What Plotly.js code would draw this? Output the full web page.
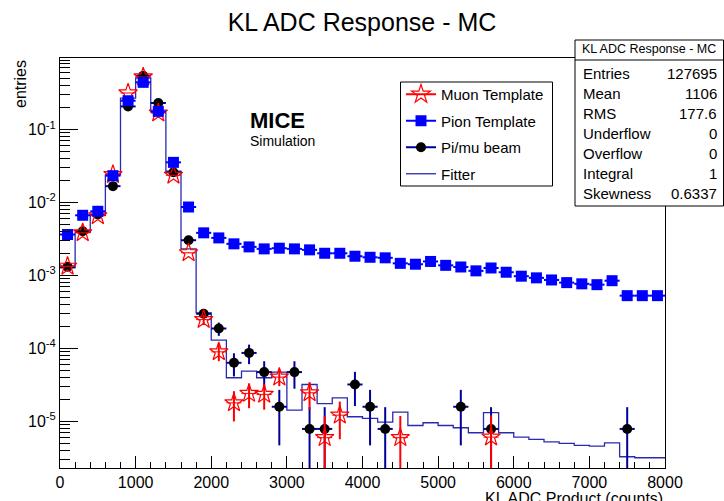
<!DOCTYPE html>
<html><head><meta charset="utf-8">
<script src="https://cdn.plot.ly/plotly-3.0.1.min.js"></script>
<style>html,body{margin:0;padding:0;background:#fff}#chart{width:724px;height:501px}</style>
</head><body><div id="chart"></div>
<script>
// ---- data ----
const binCenters = [100,300,500,700,900,1100,1300,1500,1700,1900,2100,2300,2500,2700,2900,3100,3300,3500,3700,3900,
                    4100,4300,4500,4700,4900,5100,5300,5500,5700,5900,6100,6300,6500,6700,6900,7100,7300,7500,7700,7900];
const binWidth = 200;
const muon = [1.34e-3,3.85e-3,6.6e-3,0.0242,0.318,0.527,0.169,0.0237,2.05e-3,2.49e-4,9.0e-5,1.8e-5,2.42e-5,2.35e-5,4.05e-5,null,2.47e-5,6.0e-6,1.22e-5,null,
              null,null,6.0e-6,null,null,null,null,null,6.1e-6,null,null,null,null,null,null,null,null,null,null,null];
const muonErr = [2e-5,3e-5,4e-5,8e-5,3e-4,4e-4,2e-4,8e-5,2.3e-5,3.9e-5,2.3e-5,0.8e-5,0.9e-5,0.9e-5,1.0e-5,null,1.0e-5,5.9e-6,0.65e-5,null,
                 null,null,5.9e-6,null,null,null,null,null,6.0e-6,null,null,null,null,null,null,null,null,null,null,null];
const pion = [3.65e-3,6.7e-3,7.6e-3,0.0234,0.249,0.445,0.178,0.0356,8.7e-3,3.85e-3,3.28e-3,2.72e-3,2.47e-3,2.32e-3,2.37e-3,2.32e-3,2.25e-3,2.02e-3,2.02e-3,1.84e-3,
              1.78e-3,1.75e-3,1.47e-3,1.43e-3,1.56e-3,1.38e-3,1.31e-3,1.16e-3,1.27e-3,1.11e-3,9.8e-4,9.3e-4,8.7e-4,8.0e-4,7.7e-4,7.5e-4,8.5e-4,5.3e-4,5.3e-4,5.3e-4];
const beam = [1.32e-3,4.05e-3,6.85e-3,0.0168,0.208,0.549,0.232,0.026,3.05e-3,2.99e-4,1.88e-4,6.37e-5,8.7e-5,4.75e-5,1.59e-5,4.75e-5,7.9e-6,7.9e-6,null,3.21e-5,
              1.59e-5,7.9e-6,null,null,null,null,1.59e-5,null,7.9e-6,null,null,null,null,null,null,null,null,7.9e-6,null,null];
const beamErr = [1e-4,1.8e-4,2.3e-4,3.6e-4,1.3e-3,2.1e-3,1.35e-3,4.5e-4,1.55e-4,4.9e-5,3.9e-5,2.23e-5,2.6e-5,1.94e-5,1.12e-5,1.94e-5,7.8e-6,7.8e-6,null,1.58e-5,
                 1.12e-5,7.8e-6,null,null,null,null,1.12e-5,null,7.8e-6,null,null,null,null,null,null,null,null,7.8e-6,null,null];
const fitter = [1.28e-3,3.92e-3,6.7e-3,0.024,0.27,0.51,0.175,0.0269,2.32e-3,3.08e-4,1.3e-4,3.97e-5,4.89e-5,3.97e-5,4.75e-5,1.43e-5,3.21e-5,1.75e-5,2.11e-5,1.16e-5,
                1.1e-5,9.8e-6,1.34e-5,8.8e-6,9.6e-6,8.8e-6,8.2e-6,7.0e-6,1.32e-5,7.0e-6,6.1e-6,5.67e-6,5.26e-6,5.0e-6,4.69e-6,4.59e-6,5.1e-6,3.28e-6,3.18e-6,3.18e-6];
const seriesNames = ['Muon Template','Pion Template','Pi/mu beam','Fitter'];
const statLabels = ['Entries','Mean','RMS','Underflow','Overflow','Integral','Skewness'];
const statValues = ['127695','1106','177.6','0','0','1','0.6337'];
const yTickVals = [1e-5,1e-4,1e-3,1e-2,1e-1];
const yTickText = ['10<sup>-5</sup>','10<sup>-4</sup>','10<sup>-3</sup>','10<sup>-2</sup>','10<sup>-1</sup>'];

// ---- geometry helpers ----
const W = 724, H = 501, ML = 60, MR = 59, MT = 58, MB = 33;
const PW = W - ML - MR, PH = H - MT - MB;
const px = x => (x - ML) / PW;           // pixel -> paper x
const py = y => (H - MB - y) / PH;       // pixel -> paper y

const FONT = 'Liberation Sans, Arial, Helvetica, sans-serif';
const RED = '#ff0000', BLUE = '#0000ff', NAVY = '#000099', FIT = '#2a2ab0';

const half = binWidth / 2;
const edges = binCenters.map(c => c - half).concat([binCenters[binCenters.length-1] + half]);
const fitY = fitter.concat([fitter[fitter.length-1]]);

const traces = [
  {type:'scatter', mode:'lines', x: edges, y: fitY, line:{shape:'hv', color:FIT, width:1.3}, showlegend:false, hoverinfo:'skip'},
  {type:'scatter', mode:'markers', x: binCenters, y: beam, showlegend:false,
   marker:{symbol:'circle', size:10, color:'#000000'},
   error_y:{type:'data', array: beamErr, color:NAVY, thickness:2, width:0},
   error_x:{type:'constant', value: half, color:NAVY, thickness:2, width:0}},
  {type:'scatter', mode:'markers', x: binCenters, y: muon, showlegend:false,
   marker:{symbol:'star-open', size:14, color:RED, line:{width:1.2, color:RED}},
   error_y:{type:'data', array: muonErr, color:RED, thickness:2, width:0},
   error_x:{type:'constant', value: half, color:RED, thickness:1, width:0}},
  {type:'scatter', mode:'markers', x: binCenters, y: pion, showlegend:false,
   marker:{symbol:'square', size:11, color:BLUE},
   error_x:{type:'constant', value: half, color:BLUE, thickness:2, width:0}},
  // legend entries
  {type:'scatter', mode:'lines+markers', x:[null], y:[null], name: seriesNames[0], legendgroup:'a',
   marker:{symbol:'star-open', size:14, color:RED, line:{width:1.2,color:RED}}, line:{color:RED, width:2}},
  {type:'scatter', mode:'lines+markers', x:[null], y:[null], name: seriesNames[1], legendgroup:'b',
   marker:{symbol:'square', size:11, color:BLUE}, line:{color:BLUE, width:2}},
  {type:'scatter', mode:'lines+markers', x:[null], y:[null], name: seriesNames[2], legendgroup:'c',
   marker:{symbol:'circle', size:10, color:'#000000'}, line:{color:NAVY, width:2}},
  {type:'scatter', mode:'lines', x:[null], y:[null], name: seriesNames[3], legendgroup:'d',
   line:{color:FIT, width:1.3}}
];

const minorY = [];
for (let e = -6; e <= -1; e++) for (let m = 2; m <= 9; m++) minorY.push(m * Math.pow(10, e));

const annotations = [
  {text:'KL ADC Product (counts)', xref:'paper', yref:'paper', x:1, y:py(498.5), xanchor:'right', yanchor:'middle',
   showarrow:false, font:{family:FONT, size:16, color:'#000'}},
  {text:'entries', xref:'paper', yref:'paper', x:px(20), y:1, xanchor:'center', yanchor:'top', textangle:-90,
   showarrow:false, font:{family:FONT, size:16, color:'#000'}},
  {text:'<b>MICE</b>', xref:'paper', yref:'paper', x:px(248), y:py(120.5), xanchor:'left', yanchor:'middle',
   showarrow:false, font:{family:FONT, size:22, color:'#000'}},
  {text:'Simulation', xref:'paper', yref:'paper', x:px(248), y:py(140.5), xanchor:'left', yanchor:'middle',
   showarrow:false, font:{family:FONT, size:14, color:'#000'}},
  {text:'KL ADC Response - MC', xref:'paper', yref:'paper', x:px(649), y:py(49), xanchor:'center', yanchor:'middle',
   showarrow:false, font:{family:FONT, size:12.5, color:'#000'}}
];
statLabels.forEach((lab, i) => {
  const yy = py(73 + i * 20.15);
  annotations.push({text:lab, xref:'paper', yref:'paper', x:px(581), y:yy, xanchor:'left', yanchor:'middle',
    showarrow:false, font:{family:FONT, size:15, color:'#000'}});
  annotations.push({text:statValues[i], xref:'paper', yref:'paper', x:px(719), y:yy, xanchor:'right', yanchor:'middle',
    showarrow:false, font:{family:FONT, size:15, color:'#000'}});
});

const shapes = [
  // legend frame
  {type:'rect', xref:'paper', yref:'paper', x0:px(400.5), x1:px(552.5), y0:py(186), y1:py(82),
   line:{color:'#000', width:1}, fillcolor:'#fff', layer:'above'},
  // stats box
  {type:'rect', xref:'paper', yref:'paper', x0:px(575), x1:px(723.5), y0:py(206), y1:py(40),
   line:{color:'#000', width:1}, fillcolor:'#fff', layer:'above'},
  {type:'line', xref:'paper', yref:'paper', x0:px(575), x1:px(723.5), y0:py(60), y1:py(60),
   line:{color:'#000', width:1}, layer:'above'}
];

const layout = {
  width: W, height: H,
  margin:{l:ML, r:MR, t:MT, b:MB, pad:0},
  paper_bgcolor:'#fff', plot_bgcolor:'#fff',
  font:{family:FONT, color:'#000'},
  title:{text:'KL ADC Response - MC', x:0.5, xanchor:'center', xref:'container', y:1 - 22/H, yref:'container', yanchor:'middle',
         font:{family:FONT, size:25, color:'#000'}},
  xaxis:{range:[0,8000], showgrid:false, zeroline:false, showline:true, linecolor:'#000', linewidth:1, mirror:true,
         ticks:'inside', ticklen:12, tickcolor:'#000', tickwidth:1, tick0:0, dtick:1000,
         tickfont:{family:FONT, size:16, color:'#000'},
         minor:{dtick:200, tick0:0, ticks:'inside', ticklen:6, tickcolor:'#000', tickwidth:1, showgrid:false}},
  yaxis:{type:'log', range:[-5.638,-0.018], showgrid:false, zeroline:false, showline:true, linecolor:'#000', linewidth:1, mirror:true,
         ticks:'inside', ticklen:18, tickcolor:'#000', tickwidth:1, tickmode:'array', tickvals:yTickVals, ticktext:yTickText,
         tickfont:{family:FONT, size:16, color:'#000'},
         minor:{tickmode:'array', tickvals:minorY, ticks:'inside', ticklen:10, tickcolor:'#000', tickwidth:1, showgrid:false}},
  legend:{x:px(401), y:py(78), xanchor:'left', yanchor:'top', bgcolor:'rgba(0,0,0,0)', borderwidth:0,
          font:{family:FONT, size:15, color:'#000'}, tracegroupgap:4, itemwidth:30},
  showlegend:true,
  annotations: annotations,
  shapes: shapes
};

Plotly.newPlot('chart', traces, layout, {displayModeBar:false, staticPlot:true});
</script>
</body></html>
